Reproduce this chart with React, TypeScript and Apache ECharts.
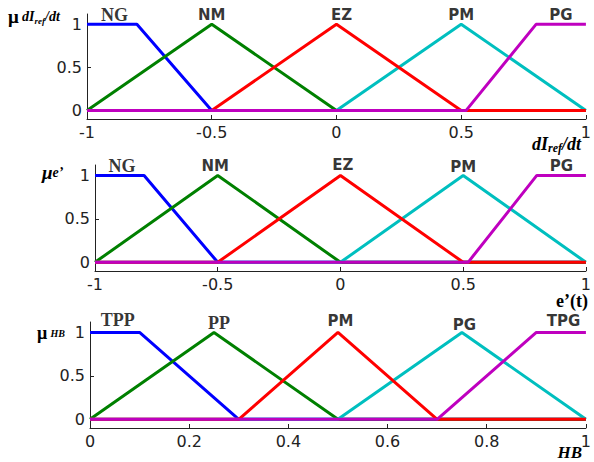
import React, { useEffect, useRef } from "react";
import * as echarts from "echarts";

// ---- Data ----
const xTicksTop = [-1, -0.5, 0, 0.5, 1];
const xTicksHB = [0, 0.2, 0.4, 0.6, 0.8, 1];
const yTicks = [0, 0.5, 1];

// Plot 1 : dIref/dt
const ng1 = [[-1, 1], [-0.8, 1], [-0.5, 0], [1, 0]];
const nm1 = [[-1, 0], [-0.5, 1], [0, 0], [1, 0]];
const pm1 = [[-1, 0], [0, 0], [0.5, 1], [1, 0]];
const ez1 = [[-1, 0], [-0.5, 0], [0, 1], [0.5, 0], [1, 0]];
const pg1 = [[-1, 0], [0.52, 0], [0.8, 1], [1, 1]];
const labels1 = [
  { x: -0.89, name: "NG", serif: true },
  { x: -0.5, name: "NM", serif: false },
  { x: 0.02, name: "EZ", serif: false },
  { x: 0.5, name: "PM", serif: false },
  { x: 0.9, name: "PG", serif: false },
];

// Plot 2 : e'(t)
const ng2 = [[-1, 1], [-0.8, 1], [-0.5, 0], [1, 0]];
const nm2 = [[-1, 0], [-0.5, 1], [0, 0], [1, 0]];
const pm2 = [[-1, 0], [0, 0], [0.5, 1], [1, 0]];
const ez2 = [[-1, 0], [-0.5, 0], [0, 1], [0.5, 0], [1, 0]];
const pg2 = [[-1, 0], [0.52, 0], [0.8, 1], [1, 1]];
const labels2 = [
  { x: -0.89, name: "NG", serif: true },
  { x: -0.51, name: "NM", serif: false },
  { x: 0.01, name: "EZ", serif: false },
  { x: 0.5, name: "PM", serif: false },
  { x: 0.9, name: "PG", serif: false },
];

// Plot 3 : HB
const tpp3 = [[0, 1], [0.1, 1], [0.3, 0], [1, 0]];
const pp3 = [[0, 0], [0.25, 1], [0.5, 0], [1, 0]];
const pg3 = [[0, 0], [0.5, 0], [0.75, 1], [1, 0]];
const pm3 = [[0, 0], [0.3, 0], [0.5, 1], [0.7, 0], [1, 0]];
const tpg3 = [[0, 0], [0.7, 0], [0.9, 1], [1, 1]];
const labels3 = [
  { x: 0.056, name: "TPP", serif: true },
  { x: 0.26, name: "PP", serif: true },
  { x: 0.505, name: "PM", serif: false },
  { x: 0.755, name: "PG", serif: false },
  { x: 0.955, name: "TPG", serif: false },
];

const COLORS = ["#0000ff", "#008000", "#00bfbf", "#ff0000", "#bf00bf"];
const SERIF = "'Liberation Serif', 'DejaVu Serif', serif";
const SANS = "'DejaVu Sans', 'Liberation Sans', sans-serif";

export default function App() {
  const ref = useRef<HTMLDivElement>(null);

  useEffect(() => {
    if (!ref.current) return;
    const chart = echarts.init(ref.current, null, { renderer: "svg" });

    const grids = [
      { left: 87, top: 14, width: 500, height: 105 },
      { left: 95, top: 165, width: 498, height: 106 },
      { left: 90, top: 322, width: 498, height: 106 },
    ];

    const axisLine = { show: true, onZero: false, lineStyle: { color: "#222", width: 1 } };
    const axisLabel = { color: "#222", fontSize: 16, fontFamily: SANS };

    const xAxes = [
      { min: -1, max: 1, interval: 0.5, ticks: xTicksTop },
      { min: -1, max: 1, interval: 0.5, ticks: xTicksTop },
      { min: 0, max: 1, interval: 0.2, ticks: xTicksHB },
    ].map((a, i) => ({
      type: "value" as const,
      gridIndex: i,
      min: a.min,
      max: a.max,
      interval: a.interval,
      axisLine,
      axisTick: { show: true, inside: true, length: 4, lineStyle: { color: "#222" } },
      splitLine: { show: false },
      axisLabel: {
        ...axisLabel,
        margin: 5,
        showMinLabel: true,
        showMaxLabel: true,
        hideOverlap: false,
        formatter: (v: number) => String(a.ticks.find((t) => Math.abs(t - v) < 1e-9) ?? v),
      },
    }));

    const yAxes = [0, 1, 2].map((i) => ({
      type: "value" as const,
      gridIndex: i,
      min: -0.1,
      max: 1.12,
      axisLine,
      axisTick: { show: true, inside: true, length: 4, customValues: yTicks, lineStyle: { color: "#222" } },
      splitLine: { show: false },
      axisLabel: { ...axisLabel, margin: 5, customValues: yTicks, padding: [5, 0, 0, 0] },
    }));

    const mfSets = [
      [ng1, nm1, pm1, ez1, pg1],
      [ng2, nm2, pm2, ez2, pg2],
      [tpp3, pp3, pg3, pm3, tpg3],
    ];
    const labelSets = [labels1, labels2, labels3];
    const labelOffsets = [
      [-9, -9, -9, -9, -9],
      [-9, -9, -10, -8, -9],
      [-12, -9, -11, -7, -11],
    ];

    const series: any[] = [];
    mfSets.forEach((set, g) => {
      set.forEach((data, k) => {
        series.push({
          type: "line",
          xAxisIndex: g,
          yAxisIndex: g,
          data,
          symbol: "none",
          showSymbol: false,
          lineStyle: { color: COLORS[k], width: 3 },
          itemStyle: { color: COLORS[k] },
          z: 2 + k,
          silent: true,
        });
      });
      series.push({
        type: "scatter",
        xAxisIndex: g,
        yAxisIndex: g,
        symbolSize: 1,
        itemStyle: { color: "transparent" },
        silent: true,
        z: 10,
        data: labelSets[g].map((l, k) => ({
          value: [l.x, 1],
          name: l.name,
          label: {
            show: true,
            formatter: "{b}",
            position: "inside",
            offset: [0, labelOffsets[g][k]],
            color: "#000",
            fontWeight: "bold",
            fontFamily: l.serif ? SERIF : SANS,
            fontSize: l.serif ? 18 : 15,
          },
        })),
      });
    });

    const graphic: any[] = [
      {
        type: "text",
        x: 8,
        y: 16,
        style: {
          text: "{m|μ} {b|dI}{s|ref}{b|/dt}",
          verticalAlign: "middle",
          rich: {
            m: { fontFamily: SERIF, fontWeight: "bold", fontSize: 19, fill: "#000" },
            b: { fontFamily: SERIF, fontStyle: "italic", fontWeight: "bold", fontSize: 14, fill: "#000" },
            s: { fontFamily: SERIF, fontStyle: "italic", fontWeight: "bold", fontSize: 9, fill: "#000", verticalAlign: "bottom", padding: [6, 0, 0, 0] },
          },
        },
      },
      {
        type: "text",
        x: 42,
        y: 172,
        style: {
          text: "{m|μ}{b|e’}",
          verticalAlign: "middle",
          rich: {
            m: { fontFamily: SERIF, fontStyle: "italic", fontWeight: "bold", fontSize: 19, fill: "#000" },
            b: { fontFamily: SERIF, fontStyle: "italic", fontWeight: "bold", fontSize: 14, fill: "#000" },
          },
        },
      },
      {
        type: "text",
        x: 37,
        y: 333,
        style: {
          text: "{m|μ} {b|HB}",
          verticalAlign: "middle",
          rich: {
            m: { fontFamily: SERIF, fontWeight: "bold", fontSize: 18, fill: "#000" },
            b: { fontFamily: SERIF, fontStyle: "italic", fontWeight: "bold", fontSize: 10, fill: "#000" },
          },
        },
      },
      {
        type: "text",
        x: 581,
        y: 144,
        style: {
          text: "{b|dI}{s|ref}{b|/dt}",
          align: "right",
          verticalAlign: "middle",
          rich: {
            b: { fontFamily: SERIF, fontStyle: "italic", fontWeight: "bold", fontSize: 18, fill: "#000" },
            s: { fontFamily: SERIF, fontStyle: "italic", fontWeight: "bold", fontSize: 12, fill: "#000", verticalAlign: "bottom", padding: [8, 0, 0, 0] },
          },
        },
      },
      {
        type: "text",
        x: 588,
        y: 301,
        style: {
          text: "e’(t)",
          align: "right",
          verticalAlign: "middle",
          fontFamily: SERIF,
          fontWeight: "bold",
          fontSize: 18,
          fill: "#000",
        },
      },
      {
        type: "text",
        x: 582,
        y: 452,
        style: {
          text: "HB",
          align: "right",
          verticalAlign: "middle",
          fontFamily: SERIF,
          fontStyle: "italic",
          fontWeight: "bold",
          fontSize: 17,
          fill: "#000",
        },
      },
    ];

    chart.setOption({
      animation: false,
      backgroundColor: "#fff",
      grid: grids,
      xAxis: xAxes,
      yAxis: yAxes,
      series,
      graphic,
    });

    return () => chart.dispose();
  }, []);

  return (
    <div
      ref={ref}
      style={{ position: "fixed", left: 0, top: 0, width: 594, height: 462 }}
    />
  );
}
